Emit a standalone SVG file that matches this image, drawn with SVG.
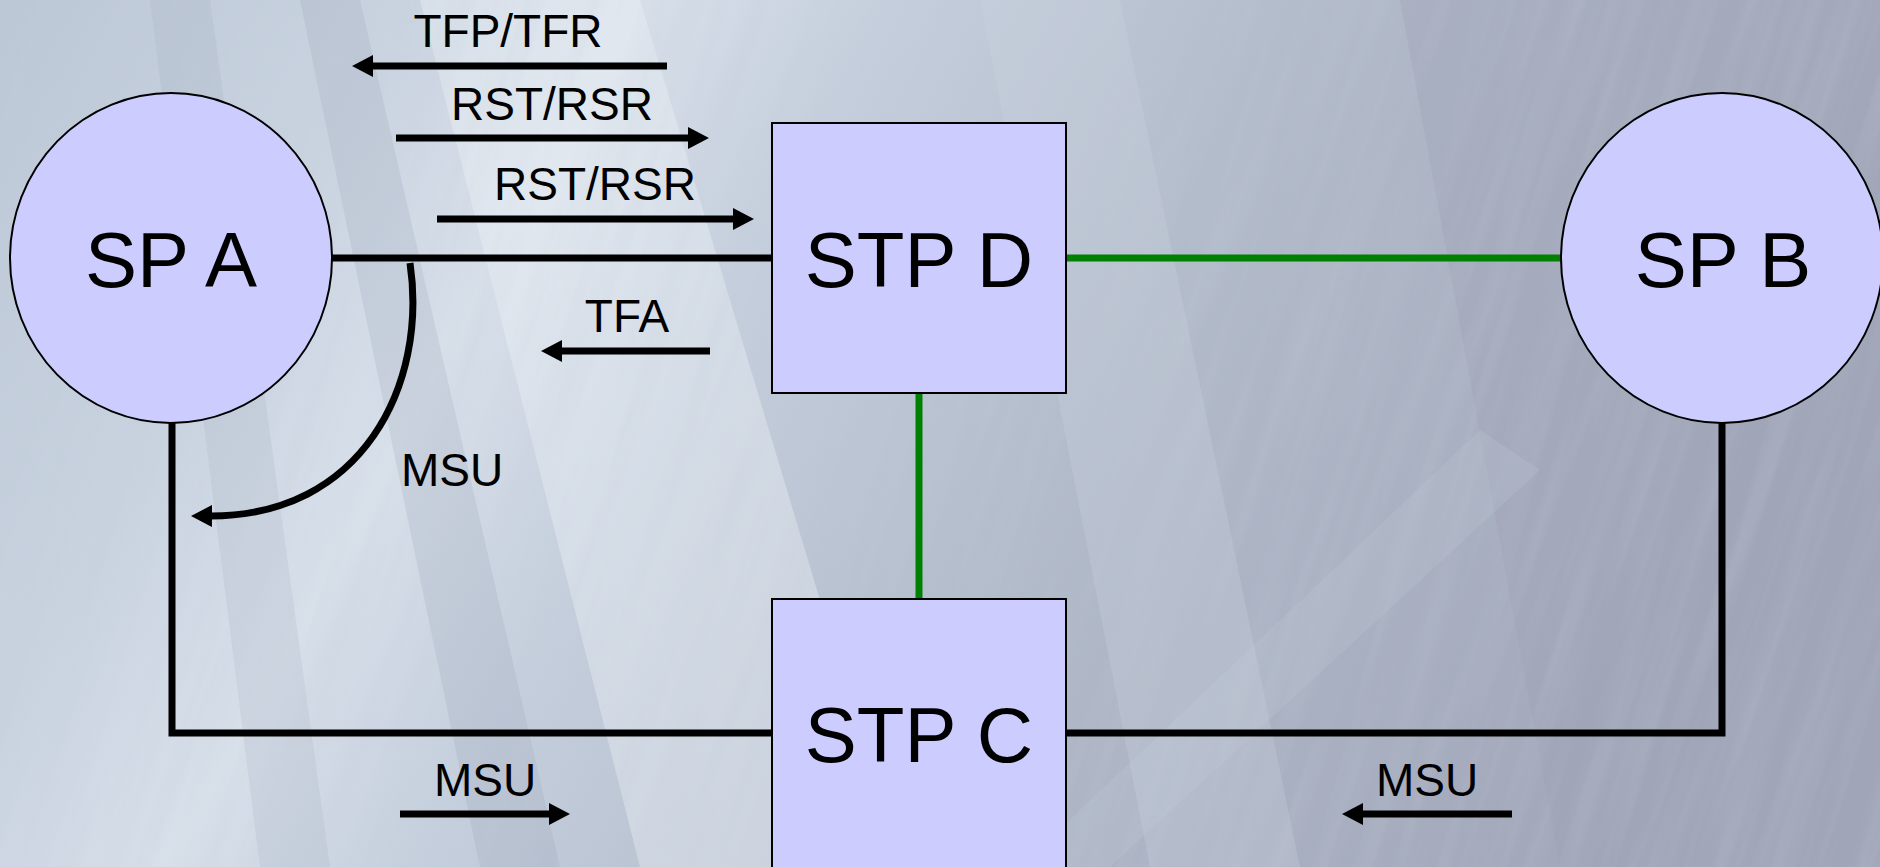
<svg xmlns="http://www.w3.org/2000/svg" width="1880" height="867" viewBox="0 0 1880 867">
  <defs>
    <linearGradient id="bgBase" x1="0" y1="0" x2="1" y2="0.25">
      <stop offset="0" stop-color="#bcc7d6"/>
      <stop offset="0.2" stop-color="#c9d3e0"/>
      <stop offset="0.32" stop-color="#d8e0ea"/>
      <stop offset="0.45" stop-color="#c4cedc"/>
      <stop offset="0.65" stop-color="#b3bccb"/>
      <stop offset="0.85" stop-color="#a9b0c1"/>
      <stop offset="1" stop-color="#a3a9bb"/>
    </linearGradient>
    <filter id="grain" x="0" y="0" width="100%" height="100%">
      <feTurbulence type="fractalNoise" baseFrequency="0.003 0.05" numOctaves="3" seed="7" result="n"/>
      <feColorMatrix in="n" type="matrix" values="0 0 0 0 0.55  0 0 0 0 0.6  0 0 0 0 0.68  0 0 0 1.4 -0.55"/>
    </filter>
    <marker id="head" viewBox="0 -11 21 22" refX="3" refY="0" markerWidth="21" markerHeight="22" markerUnits="userSpaceOnUse" orient="auto">
      <path d="M0,-11 L21,0 L0,11 z" fill="#000"/>
    </marker>
    <style>
      .node { fill: #ccccff; stroke: #000; stroke-width: 2; }
      .title { font-family: "Liberation Sans", Arial, sans-serif; font-size: 78px; fill: #000; text-anchor: middle; }
      .label { font-family: "Liberation Sans", Arial, sans-serif; font-size: 46px; fill: #000; text-anchor: middle; }
      .link { fill: none; stroke: #000; stroke-width: 7; }
      .green { fill: none; stroke: #008000; stroke-width: 7; }
      .msg { fill: none; stroke: #000; stroke-width: 7; marker-end: url(#head); }
    </style>
  </defs>

  <!-- backdrop: blurred aerial texture -->
  <g id="backdrop">
    <rect width="1880" height="867" fill="url(#bgBase)"/>
    <polygon points="420,0 640,0 900,867 640,867" fill="#eef2f7" opacity="0.4"/>
    <polygon points="300,0 360,0 560,867 480,867" fill="#8f9bb0" opacity="0.2"/>
    <polygon points="150,0 210,0 330,867 260,867" fill="#9aa5b8" opacity="0.18"/>
    <polygon points="980,0 1120,0 1300,867 1150,867" fill="#d0d8e4" opacity="0.25"/>
    <polygon points="1400,0 1880,0 1880,867 1560,867" fill="#9aa0b2" opacity="0.3"/>
    <polygon points="1020,867 1480,430 1540,470 1110,867" fill="#c8d1de" opacity="0.18"/>
    <g transform="rotate(-72 940 433)">
      <rect x="-300" y="-600" width="2500" height="2100" filter="url(#grain)" opacity="0.3"/>
    </g>
  </g>

  <!-- connectors -->
  <g id="connectors">
    <line class="link" x1="332" y1="258" x2="772" y2="258"/>
    <line class="green" x1="1066" y1="258" x2="1561" y2="258"/>
    <line class="green" x1="919" y1="393" x2="919" y2="599"/>
    <polyline class="link" points="172,423 172,733 772,733"/>
    <polyline class="link" points="1066,733 1722,733 1722,423"/>
  </g>

  <!-- message flows -->
  <g id="messages">
    <line class="msg" x1="667" y1="66" x2="370" y2="66"/>
    <text class="label" x="508" y="47">TFP/TFR</text>
    <line class="msg" x1="396" y1="138" x2="691" y2="138"/>
    <text class="label" x="552" y="120">RST/RSR</text>
    <line class="msg" x1="437" y1="219" x2="736" y2="219"/>
    <text class="label" x="595" y="200">RST/RSR</text>
    <line class="msg" x1="710" y1="351" x2="559" y2="351"/>
    <text class="label" x="627" y="332">TFA</text>
    <path class="msg" d="M410,263 C428,385 362,517 209,516"/>
    <text class="label" x="452" y="486">MSU</text>
    <line class="msg" x1="400" y1="814" x2="552" y2="814"/>
    <text class="label" x="485" y="796">MSU</text>
    <line class="msg" x1="1512" y1="814" x2="1360" y2="814"/>
    <text class="label" x="1427" y="796">MSU</text>
  </g>

  <g id="sp-a">
    <ellipse class="node" cx="171" cy="258" rx="161" ry="165"/>
    <text class="title" x="171" y="287">SP A</text>
  </g>
  <g id="stp-d">
    <rect class="node" x="772" y="123" width="294" height="270"/>
    <text class="title" x="919" y="287">STP D</text>
  </g>
  <g id="sp-b">
    <ellipse class="node" cx="1722" cy="258" rx="161" ry="165"/>
    <text class="title" x="1723" y="287">SP B</text>
  </g>
  <g id="stp-c">
    <rect class="node" x="772" y="599" width="294" height="290"/>
    <text class="title" x="919" y="762">STP C</text>
  </g>
</svg>
